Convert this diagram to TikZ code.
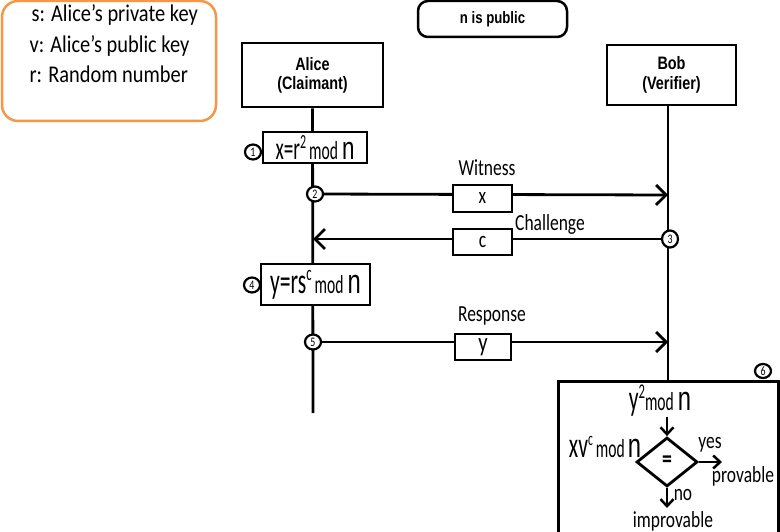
\documentclass[tikz,border=0pt]{standalone}
\usepackage{fontspec}
\setmainfont[FakeStretch=0.76]{Carlito}
\newfontfamily\legendf[FakeStretch=0.85]{Carlito}
\newfontfamily\formf[FakeStretch=0.6]{Carlito}
\newfontfamily\arialf[FakeStretch=0.8]{Liberation Sans}
\newfontfamily\arialn[FakeStretch=0.7]{Liberation Sans}
\usetikzlibrary{arrows.meta,shapes.geometric,backgrounds}
\newcommand\fsz[2]{\fontsize{#1}{#2}\selectfont}
\definecolor{legendorange}{RGB}{247,150,70}
\tikzset{
  lw/.style={line width=2.8pt},
  boxst/.style={draw, line width=2.8pt, fill=white, inner sep=0pt},
  circ/.style={ellipse, draw, line width=2.2pt, fill=white, minimum width=16pt, minimum height=15pt, inner sep=0pt, font=\fsz{13}{13}},
  lbl/.style={font=\fsz{23}{23}},
  arr/.style={-{Straight Barb[length=10pt,width=20pt]}},
  sarr/.style={-{Straight Barb[length=7pt,width=13pt]}},
}
\begin{document}
\begin{tikzpicture}[x=1pt,y=-1pt]
\path[use as bounding box] (0,0) rectangle (780,532);
\clip (0,0) rectangle (780,532);

% legend
\node[draw=legendorange, line width=2.5pt, rounded corners=16pt, minimum width=214pt, minimum height=120pt] (legend) at (109,61) {};
\node[anchor=base west, font=\legendf\fsz{24}{24}] (l1) at (28,22) {s: Alice’s private key};
\node[anchor=base west, font=\legendf\fsz{24}{24}] (l2) at (26,53) {v: Alice’s public key};
\node[anchor=base west, font=\legendf\fsz{24}{24}] (l3) at (26,83) {r: Random number};

% n is public
\node[draw, line width=2.5pt, rounded corners=10pt, minimum width=149pt, minimum height=36pt, font=\arialf\bfseries\fsz{16.5}{16.5}] (npub) at (492.5,19) {n is public};

% actors
\node[boxst, minimum width=141pt, minimum height=64pt, align=center, font=\arialf\bfseries\fsz{18}{19}] (alice) at (312.5,75) {Alice\\(Claimant)};
\node[boxst, minimum width=129pt, minimum height=60pt, align=center, font=\arialf\bfseries\fsz{18}{20}] (bob) at (671.5,75) {Bob\\(Verifier)};
\coordinate (aliceEnd) at (313,413);
\coordinate (bobX) at (668,0);

% verification box
\node[draw, line width=2.8pt, minimum width=220pt, minimum height=170pt, anchor=north west, inner sep=0pt] (verif) at (557,380) {};

% step boxes on Alice
\node[boxst, minimum width=104pt, minimum height=31pt] (f1) at (315,147.5)
  {{\formf\fsz{32}{32}x=r}\raisebox{11pt}{\formf\fsz{20}{20}2}\hspace{3pt}{\formf\fsz{26}{26}mod}\hspace{4pt}{\arialn\fsz{32}{32}n}};
\node[boxst, minimum width=109pt, minimum height=41pt] (f4) at (315.5,284.5)
  {{\formf\fsz{36}{36}y=rs}\raisebox{13pt}{\formf\fsz{21}{21}c}\hspace{3pt}{\formf\fsz{26}{26}mod}\hspace{4pt}{\arialn\fsz{34}{34}n}};

% circles
\node[circ] (c1) at (253,152) {1};
\node[circ] (c2) at (315,194) {2};
\node[circ, minimum height=17pt] (c3) at (670,239) {3};
\node[circ] (c4) at (252,285) {4};
\node[circ] (c5) at (313,342) {5};
\node[circ, minimum height=14pt] (c6) at (763,371) {6};

% message boxes
\node[boxst, minimum width=59pt, minimum height=27pt, font=\fsz{23}{23}] (mx) at (482.5,198.5) {x};
\node[boxst, minimum width=59pt, minimum height=26pt, font=\fsz{23}{23}] (mc) at (482.5,242) {c};
\node[boxst, minimum width=56pt, minimum height=26pt, font=\fsz{27}{27}] (my) at (483,347) {y};
\node[lbl] (tw) at (487,168) {Witness};
\node[lbl] (tc) at (550,224) {Challenge};
\node[lbl] (tr) at (492,316) {Response};

\coordinate (wEnd) at (668,195);
\coordinate (cEnd) at (313,239);
\coordinate (rEnd) at (668,342);

% verification content
\node[inner sep=0pt] (y2) at (660,401)
  {{\formf\fsz{36}{36}y}\raisebox{12pt}{\formf\fsz{21}{21}2}{\formf\fsz{26}{26}mod}\hspace{4pt}{\arialn\fsz{34}{34}n}};
\node[inner sep=0pt] (xv) at (605,447)
  {{\formf\fsz{36}{36}xv}\raisebox{12pt}{\formf\fsz{19}{19}c}\hspace{3pt}{\formf\fsz{26}{26}mod}\hspace{3pt}{\arialn\fsz{34}{34}n}};
\node[diamond, draw, line width=2.8pt, minimum width=61pt, minimum height=49pt, inner sep=0pt, font=\bfseries\fsz{26}{26}] (dia) at (667,462) {=};
\coordinate (yesE) at (722,462);
\coordinate (noE) at (667,508);
\node[lbl] (tyes) at (710,445) {yes};
\node[lbl] (tprov) at (743,476) {provable};
\node[lbl] (tno) at (683,495) {no};
\node[lbl] (timp) at (673,521) {improvable};

\begin{scope}[on background layer]
  \fill[white] (0,0) rectangle (780,532);
  \draw[lw] (alice.south) -- (aliceEnd);
  \draw[lw] (bob.south -| bobX) -- (verif.north -| bobX);
  \draw[lw, arr] (c2) -- (wEnd);
  \draw[lw, arr] (c3) -- (cEnd);
  \draw[lw, arr] (c5) -- (rEnd);
\end{scope}
\draw[line width=2.5pt, sarr] (dia.north |- y2.south) -- (dia.north);
\draw[line width=2.5pt, sarr] (dia.east) -- (yesE);
\draw[line width=2.5pt, sarr] (dia.south) -- (noE);
\end{tikzpicture}
\end{document}
